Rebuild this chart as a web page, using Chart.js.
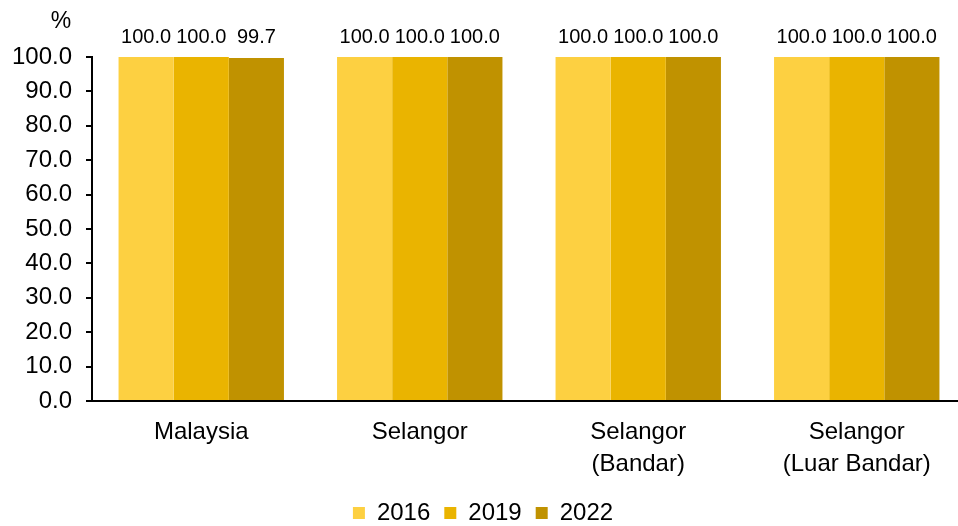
<!DOCTYPE html>
<html>
<head>
<meta charset="utf-8">
<script src="https://cdn.jsdelivr.net/npm/chart.js@4/dist/chart.umd.min.js"></script>
<style>
  html, body { margin: 0; padding: 0; background: #fff; overflow: hidden; }
  #wrap { width: 966px; height: 526px; }
</style>
</head>
<body>
<div id="wrap"><canvas id="chart"></canvas></div>
<script>
var categories = ['Malaysia', 'Selangor', ['Selangor', '(Bandar)'], ['Selangor', '(Luar Bandar)']];
var years = ['2016', '2019', '2022'];
var values2016 = [100.0, 100.0, 100.0, 100.0];
var values2019 = [100.0, 100.0, 100.0, 100.0];
var values2022 = [99.7, 100.0, 100.0, 100.0];
var yTicks = [0, 10, 20, 30, 40, 50, 60, 70, 80, 90, 100];

var colors = ['#FDD041', '#EAB400', '#C09200'];
var FONT = "'Liberation Sans', Arial, sans-serif";

// value labels above bars
var barLabels = {
    id: 'barLabels',
    afterDatasetsDraw: function(chart) {
        var ctx = chart.ctx;
        ctx.save();
        ctx.font = '20px ' + FONT;
        ctx.fillStyle = '#000';
        ctx.textAlign = 'center';
        ctx.textBaseline = 'alphabetic';
        chart.data.datasets.forEach(function(ds, i) {
            chart.getDatasetMeta(i).data.forEach(function(bar, j) {
                ctx.fillText(ds.data[j].toFixed(1), bar.x, chart.chartArea.top - 14);
            });
        });
        // unit label
        ctx.font = '23px ' + FONT;
        ctx.fillText('%', 61, 28);
        ctx.restore();
    }
};

var config = {
    type: 'bar',
    data: {
        labels: categories,
        datasets: [
            { label: years[0], data: values2016, backgroundColor: colors[0] },
            { label: years[1], data: values2019, backgroundColor: colors[1] },
            { label: years[2], data: values2022, backgroundColor: colors[2] }
        ]
    },
    options: {
        responsive: true,
        maintainAspectRatio: false,
        animation: false,
        categoryPercentage: 0.757,
        barPercentage: 1.0,
        layout: { padding: { top: 57, left: 0, right: 0, bottom: -9 } },
        plugins: {
            tooltip: { enabled: false },
            legend: {
                position: 'bottom',
                labels: {
                    color: '#000',
                    font: { family: FONT, size: 24 },
                    boxWidth: 12,
                    boxHeight: 12,
                    padding: 14
                }
            }
        },
        scales: {
            x: {
                grid: { display: false },
                border: { display: true, color: '#000', width: 2 },
                ticks: {
                    color: '#000',
                    font: { family: FONT, size: 24, lineHeight: 1.35 },
                    padding: 7,
                    maxRotation: 0,
                    autoSkip: false
                },
                afterFit: function(scale) { scale.height = 86; }
            },
            y: {
                min: 0,
                max: 100,
                afterBuildTicks: function(scale) {
                    scale.ticks = yTicks.map(function(v) { return { value: v }; });
                },
                grid: { drawOnChartArea: false, color: '#000', tickLength: 6, lineWidth: 2 },
                border: { display: true, color: '#000', width: 2 },
                ticks: {
                    color: '#000',
                    font: { family: FONT, size: 24 },
                    padding: 14,
                    callback: function(v) { return v.toFixed(1); }
                },
                afterFit: function(scale) { scale.width = 92; }
            }
        }
    },
    plugins: [barLabels]
};

window.onload = function() {
    var ctx = document.getElementById('chart').getContext('2d');
    window.myBar = new Chart(ctx, config);
};
</script>
</body>
</html>
